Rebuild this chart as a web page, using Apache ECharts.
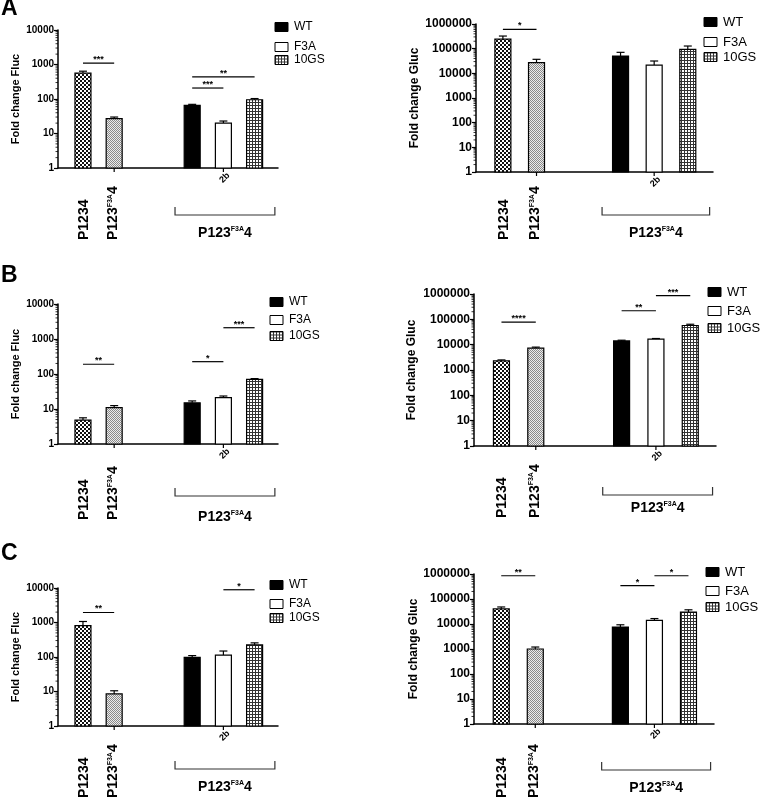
<!DOCTYPE html>
<html><head><meta charset="utf-8">
<script src="https://cdn.jsdelivr.net/npm/echarts@6/dist/echarts.min.js"></script>
<style>html,body{margin:0;padding:0;background:#fff}#c{width:760px;height:799px}</style>
</head><body><div id="c"></div>
<script>
// ================= DATA =================
const barLabels = ['P1234', 'P123F3A4', 'WT', 'F3A', '10GS'];
const variantNames = ['WT', 'F3A', '10GS'];
const panelLetters = ['A', 'B', 'C'];
const yTitles = ['Fold change Fluc', 'Fold change Gluc'];
const flucTicks = [1, 10, 100, 1000, 10000];
const glucTicks = [1, 10, 100, 1000, 10000, 100000, 1000000];
const groupLabel1 = 'P1234';
const groupLabel2 = 'P123{s|F3A}4';
const subLabel = '2b';
const bracketLabel = 'P123{s|F3A}4';

// Panel A (means and top of error bar)
const flucA = [560, 27, 65, 20, 95];
const flucAHigh = [640, 30, 70, 23, 103];
const glucA = [245000, 27000, 50000, 21700, 94000];
const glucAHigh = [325000, 37000, 71000, 31600, 128000];
// Panel B
const flucB = [4.8, 11, 15, 21, 70];
const flucBHigh = [5.6, 12.5, 17, 23.5, 74];
const glucB = [2300, 7300, 14000, 16500, 57000];
const glucBHigh = [2500, 8000, 15000, 17500, 64000];
// Panel C
const flucC = [815, 8.5, 98, 114, 224];
const flucCHigh = [1070, 10.5, 110, 149, 257];
const glucC = [40000, 1000, 7600, 14000, 30000];
const glucCHigh = [48000, 1200, 9300, 16500, 37000];

// significance brackets: [fromBar, toBar, yValue, stars]
const sigFlucA = [[0, 1, 1100, '***'], [2, 4, 435, '**'], [2, 3, 208, '***']];
const sigGlucA = [[0, 1, 605000, '*']];
const sigFlucB = [[0, 1, 190, '**'], [2, 3, 225, '*'], [3, 4, 2100, '***']];
const sigGlucB = [[0, 1, 77000, '****'], [2, 3, 218000, '**'], [3, 4, 870000, '***']];
const sigFlucC = [[0, 1, 1950, '**'], [3, 4, 8900, '*']];
const sigGlucC = [[0, 1, 850000, '**'], [2, 3, 340000, '*'], [3, 4, 850000, '*']];

// ================= LAYOUT =================
const FONT = '"Liberation Sans", Arial, Helvetica, sans-serif';
const barPos = [0, 1, 3.5, 4.5, 5.5];
const X_MIN = -0.8, X_MAX = 6.25;
const bracketRange = [2.95, 6.15];
const BAR_W = 16;

const panelData = [
  {vals: flucA, high: flucAHigh, sig: sigFlucA, ticks: flucTicks, title: yTitles[0]},
  {vals: glucA, high: glucAHigh, sig: sigGlucA, ticks: glucTicks, title: yTitles[1]},
  {vals: flucB, high: flucBHigh, sig: sigFlucB, ticks: flucTicks, title: yTitles[0]},
  {vals: glucB, high: glucBHigh, sig: sigGlucB, ticks: glucTicks, title: yTitles[1]},
  {vals: flucC, high: flucCHigh, sig: sigFlucC, ticks: flucTicks, title: yTitles[0]},
  {vals: glucC, high: glucCHigh, sig: sigGlucC, ticks: glucTicks, title: yTitles[1]}
];

const layout = [
  {left:58, right:278, top:30, bottom:168, titleGap:37, tickFont:10, titleFont:11, legendX:275, legendYs:[27,47,60], legendFont:12, bTop:207, bBot:215, bLabelY:233, groupBottom:240},
  {left:476, right:713, top:24, bottom:172, titleGap:55, tickFont:12, titleFont:12, legendX:704, legendYs:[22,42,57], legendFont:13, bTop:207, bBot:215, bLabelY:233, groupBottom:240},
  {left:58, right:278, top:304, bottom:444, titleGap:37, tickFont:10, titleFont:11, legendX:270, legendYs:[302,320,336], legendFont:12, bTop:488, bBot:496, bLabelY:517, groupBottom:520},
  {left:474, right:716, top:294, bottom:446, titleGap:56, tickFont:12, titleFont:12, legendX:708, legendYs:[292,311,328], legendFont:13, bTop:487, bBot:495, bLabelY:508, groupBottom:518},
  {left:58, right:278, top:588, bottom:726, titleGap:37, tickFont:10, titleFont:11, legendX:270, legendYs:[585,604,618], legendFont:12, bTop:761, bBot:769, bLabelY:787, groupBottom:798},
  {left:474, right:714, top:574, bottom:724, titleGap:53, tickFont:12, titleFont:12, legendX:706, legendYs:[572,591,607], legendFont:13, bTop:762, bBot:770, bLabelY:788, groupBottom:798}
];
const letterPos = [{x:1, y:9}, {x:1, y:276}, {x:1, y:554}];

// ================= PATTERNS =================
function makePattern(kind) {
  const c = document.createElement('canvas');
  const g = c.getContext('2d');
  if (kind === 'check') {
    c.width = c.height = 4;
    g.fillStyle = '#fff'; g.fillRect(0, 0, 4, 4);
    g.fillStyle = '#111'; g.fillRect(0, 0, 2, 2); g.fillRect(2, 2, 2, 2);
  } else if (kind === 'stipple') {
    c.width = c.height = 2;
    g.fillStyle = '#ececec'; g.fillRect(0, 0, 2, 2);
    g.fillStyle = '#8a8a8a'; g.fillRect(0, 0, 1, 1); g.fillRect(1, 1, 1, 1);
  } else if (kind === 'grid') {
    c.width = c.height = 3;
    g.fillStyle = '#fff'; g.fillRect(0, 0, 3, 3);
    g.fillStyle = '#333'; g.fillRect(0, 0, 3, 1); g.fillRect(0, 0, 1, 3);
  }
  return {image: c, repeat: 'repeat'};
}
const fills = [makePattern('check'), makePattern('stipple'), '#000', '#fff', makePattern('grid')];
const legendFills = ['#000', '#fff', makePattern('grid')];

// ================= RENDERERS =================
function barRender(pi) {
  return function (params, api) {
    const i = params.dataIndex;
    const x = api.value(0), v = api.value(1), hi = api.value(2);
    const top = api.coord([x, v]);
    const base = api.coord([x, 1]);
    const eb = api.coord([x, hi]);
    return {type: 'group', children: [
      {type: 'line', shape: {x1: top[0], y1: top[1], x2: eb[0], y2: eb[1]}, style: {stroke: '#000', lineWidth: 1.2}},
      {type: 'line', shape: {x1: top[0] - 4, y1: eb[1], x2: top[0] + 4, y2: eb[1]}, style: {stroke: '#000', lineWidth: 1.2}},
      {type: 'rect', shape: {x: top[0] - BAR_W / 2, y: top[1], width: BAR_W, height: base[1] - top[1]},
        style: {fill: fills[i], stroke: '#000', lineWidth: 1.2}}
    ]};
  };
}
function sigRender(pi) {
  return function (params, api) {
    const s = panelData[pi].sig[params.dataIndex];
    const a = api.coord([barPos[s[0]], s[2]]);
    const b = api.coord([barPos[s[1]], s[2]]);
    return {type: 'group', children: [
      {type: 'line', shape: {x1: a[0], y1: a[1], x2: b[0], y2: b[1]}, style: {stroke: '#000', lineWidth: 1.2}},
      {type: 'text', x: (a[0] + b[0]) / 2, y: a[1] + 1,
        style: {text: s[3], font: 'bold 9px ' + FONT, fill: '#000', align: 'center', verticalAlign: 'bottom'}}
    ]};
  };
}
function richStyle(size) {
  return {
    m: {fontSize: size, fontWeight: 'bold', fontFamily: FONT, fill: '#000', verticalAlign: 'bottom'},
    s: {fontSize: Math.round(size * 0.5), fontWeight: 'bold', fontFamily: FONT, fill: '#000', verticalAlign: 'top'}
  };
}
function richText(str) {
  // wrap plain parts of "P123{s|F3A}4" into {m|...}
  return str.replace(/^([^{]+)/, '{m|$1}').replace(/\}([^{}]+)$/, '}{m|$1}');
}
function decorRender(pi) {
  const L = layout[pi], D = panelData[pi];
  return function (params, api) {
    const ch = [];
    const o = api.coord([X_MIN, 1]);
    const ax = o[0], ay = o[1];
    const maxExp = Math.round(Math.log10(D.ticks[D.ticks.length - 1]));
    for (let e = 0; e < maxExp; e++) {
      for (let k = 2; k <= 9; k++) {
        const y = api.coord([X_MIN, k * Math.pow(10, e)])[1];
        ch.push({type: 'line', shape: {x1: ax - 2.5, y1: y, x2: ax, y2: y}, style: {stroke: '#000', lineWidth: 0.8}});
      }
    }
    [barPos[1], barPos[3]].forEach(function (p) {
      const x = api.coord([p, 1])[0];
      ch.push({type: 'line', shape: {x1: x, y1: ay, x2: x, y2: ay + 4}, style: {stroke: '#000', lineWidth: 1.2}});
    });
    const fs = 14;
    const x0 = api.coord([barPos[0], 1])[0];
    const x1 = api.coord([barPos[1], 1])[0];
    ch.push({type: 'text', x: x0 + 1, y: L.groupBottom, rotation: Math.PI / 2,
      style: {text: groupLabel1, font: 'bold ' + fs + 'px ' + FONT, fill: '#000', align: 'left', verticalAlign: 'middle'}});
    ch.push({type: 'text', x: x1 - 1, y: L.groupBottom, rotation: Math.PI / 2,
      style: {text: richText(groupLabel2), rich: richStyle(fs),
        font: 'bold ' + fs + 'px ' + FONT, fill: '#000', align: 'left', verticalAlign: 'middle'}});
    const x3 = api.coord([barPos[3], 1])[0];
    ch.push({type: 'text', x: x3 + 5, y: ay + 6, rotation: Math.PI / 4,
      style: {text: subLabel, font: 'bold 9px ' + FONT, fill: '#000', align: 'right', verticalAlign: 'middle'}});
    const bx1 = api.coord([bracketRange[0], 1])[0];
    const bx2 = api.coord([bracketRange[1], 1])[0];
    ch.push({type: 'polyline', shape: {points: [[bx1, L.bTop], [bx1, L.bBot], [bx2, L.bBot], [bx2, L.bTop]]},
      style: {stroke: '#333', lineWidth: 1.2, fill: null}});
    ch.push({type: 'text', x: (bx1 + bx2) / 2, y: L.bLabelY,
      style: {text: richText(bracketLabel), rich: richStyle(fs),
        font: 'bold ' + fs + 'px ' + FONT, fill: '#000', align: 'center', verticalAlign: 'middle'}});
    return {type: 'group', children: ch};
  };
}

// ================= OPTION =================
const series = [];
panelData.forEach(function (D, pi) {
  series.push({type: 'custom', name: 'bars' + pi, xAxisIndex: pi, yAxisIndex: pi, clip: false,
    renderItem: barRender(pi), encode: {x: 0, y: 1},
    data: D.vals.map(function (v, i) { return [barPos[i], v, D.high[i]]; })});
  series.push({type: 'custom', name: 'sig' + pi, xAxisIndex: pi, yAxisIndex: pi, clip: false,
    renderItem: sigRender(pi), encode: {x: 0, y: 1},
    data: D.sig.map(function (s) { return [barPos[s[0]], s[2]]; })});
  series.push({type: 'custom', name: 'decor' + pi, xAxisIndex: pi, yAxisIndex: pi, clip: false,
    renderItem: decorRender(pi), encode: {x: 0, y: 1}, data: [[X_MIN, 1]]});
});

const graphic = [];
panelLetters.forEach(function (t, i) {
  graphic.push({type: 'text', x: letterPos[i].x, y: letterPos[i].y,
    style: {text: t, font: 'bold 23px ' + FONT, fill: '#000', verticalAlign: 'middle', align: 'left'}});
});
layout.forEach(function (L) {
  variantNames.forEach(function (n, j) {
    const y = L.legendYs[j];
    graphic.push({type: 'rect', x: L.legendX, y: y - 4.5, shape: {x: 0, y: 0, width: 13, height: 9},
      style: {fill: legendFills[j], stroke: '#000', lineWidth: 1}});
    graphic.push({type: 'text', x: L.legendX + 19, y: y,
      style: {text: n, font: L.legendFont + 'px ' + FONT, fill: '#000', verticalAlign: 'middle', align: 'left'}});
  });
});

const option = {
  animation: false,
  backgroundColor: '#fff',
  grid: layout.map(function (L) {
    return {left: L.left, top: L.top, width: L.right - L.left, height: L.bottom - L.top, containLabel: false, outerBoundsMode: 'none'};
  }),
  xAxis: layout.map(function (L, i) {
    return {gridIndex: i, type: 'value', min: X_MIN, max: X_MAX,
      axisLine: {show: true, onZero: false, lineStyle: {color: '#000', width: 1.5}},
      axisTick: {show: false}, axisLabel: {show: false}, splitLine: {show: false}};
  }),
  yAxis: layout.map(function (L, i) {
    const D = panelData[i];
    return {gridIndex: i, type: 'log', logBase: 10, min: 1, max: D.ticks[D.ticks.length - 1], interval: 1,
      name: D.title, nameLocation: 'middle', nameRotate: 90, nameGap: L.titleGap,
      nameTextStyle: {fontFamily: FONT, fontWeight: 'bold', fontSize: L.titleFont, color: '#000'},
      axisLine: {show: true, onZero: false, lineStyle: {color: '#000', width: 1.5}},
      axisTick: {show: true, length: 4, lineStyle: {color: '#000', width: 1.2}},
      axisLabel: {margin: 4, fontFamily: FONT, fontWeight: 'bold', fontSize: L.tickFont, color: '#000',
        formatter: function (v) { return String(Math.round(v)); }},
      splitLine: {show: false}};
  }),
  series: series,
  graphic: graphic
};

const chart = echarts.init(document.getElementById('c'), null, {renderer: 'canvas'});
chart.setOption(option);
</script>
</body></html>
